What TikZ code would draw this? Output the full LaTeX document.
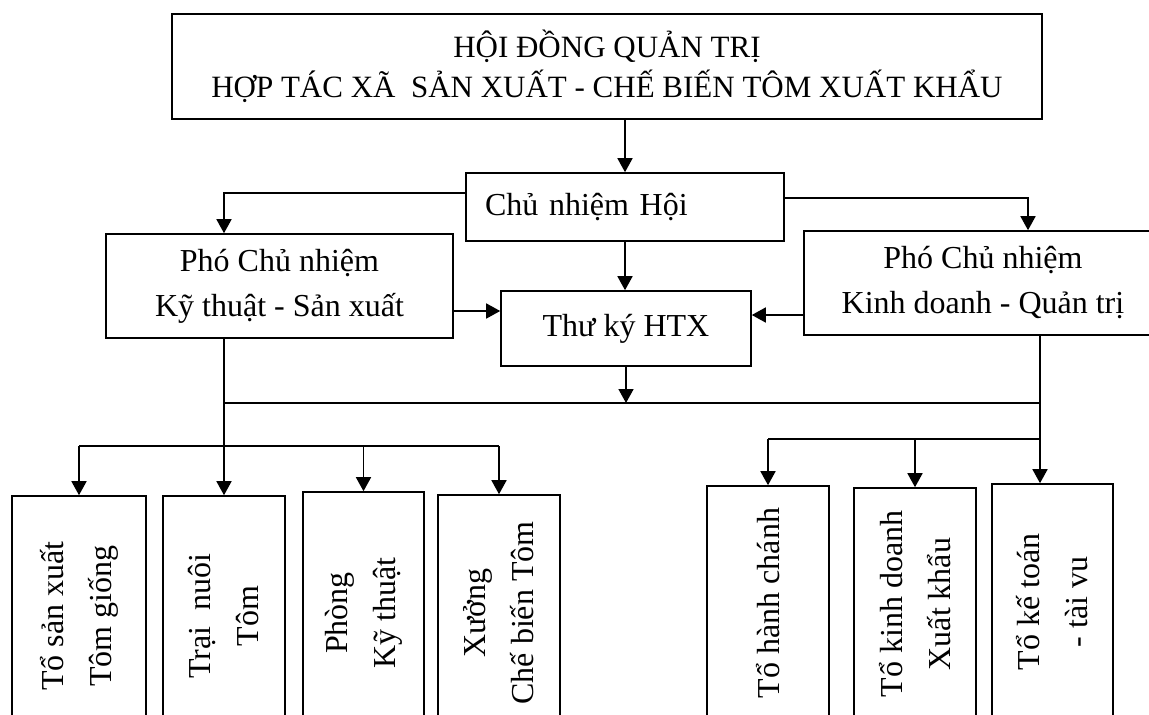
\documentclass[tikz,border=0pt]{standalone}
\usepackage{fontspec}
\setmainfont{Liberation Serif}
\usetikzlibrary{arrows.meta,positioning}

\begin{document}
\begin{tikzpicture}[x=1pt, y=-1pt,
    box/.style={draw, line width=1.6pt, align=center, inner sep=0pt},
    vbox/.style={box, rotate=90},
    ln/.style={line width=1.6pt},
    arr/.style={ln, -{Triangle[width=15pt,length=14pt]}},
    font=\fontsize{32}{48}\selectfont]
    \useasboundingbox (0,0) rectangle (1149,715);
    \clip (0,0) rectangle (1149,715);

    % Board
    \node[box, minimum width=870pt, minimum height=105pt, font=\fontsize{31}{40}\selectfont] (hdqt) at (607,66.5)
        {HỘI ĐỒNG QUẢN TRỊ\\HỢP TÁC XÃ~~SẢN XUẤT - CHẾ BIẾN TÔM XUẤT KHẨU};

    % Chairman
    \node[box, text width=280pt, align=left, inner xsep=19pt, minimum height=68pt] (cn) at (625,207) {Chủ nhiệm Hội};

    % Vice chairmen
    \node[box, minimum width=347pt, minimum height=104pt, font=\fontsize{32}{45}\selectfont] (pcn1) at (279.5,286) {Phó Chủ nhiệm\\Kỹ thuật - Sản xuất};
    \node[box, minimum width=358pt, minimum height=104pt, font=\fontsize{32}{45}\selectfont] (pcn2) at (983,283) {Phó Chủ nhiệm\\Kinh doanh - Quản trị};

    % Secretary
    \node[box, minimum width=250pt, minimum height=75pt] (tk) at (626,328.5) {Thư ký HTX};

    % Units (rotated: .east is the top side)
    \node[vbox, minimum width=240pt, minimum height=134pt] (b1) at (79,616) {Tổ sản xuất\\Tôm giống};
    \node[vbox, minimum width=240pt, minimum height=122pt] (b2) at (224,616) {Trại~~nuôi\\Tôm};
    \node[vbox, minimum width=242pt, minimum height=121pt] (b3) at (363.5,613) {Phòng\\Kỹ thuật};
    \node[vbox, minimum width=236pt, minimum height=122pt] (b4) at (499,613) {Xưởng\\Chế biến Tôm};
    \node[vbox, minimum width=234pt, minimum height=122pt] (b5) at (768,603) {Tổ hành chánh};
    \node[vbox, minimum width=232pt, minimum height=122pt] (b6) at (915,604) {Tổ kinh doanh\\Xuất khẩu};
    \node[vbox, minimum width=236pt, minimum height=121pt] (b7) at (1052.5,602) {Tổ kế toán\\- tài vu};

    % Helper points
    \coordinate (mbus) at (0,403);
    \coordinate (lbus) at (0,446);
    \coordinate (rbus) at (0,439);
    \coordinate (rtop) at (1028,0);
    \coordinate (rbot) at ([xshift=57pt]pcn2.south);
    \coordinate (lm) at ([yshift=-25pt]pcn1.east);
    \coordinate (rm) at ([yshift=-32pt]pcn2.west);

    % Arrows
    \draw[arr] (hdqt.south -| cn.north) -- (cn.north);
    \draw[arr] ([yshift=14pt]cn.west) -| (b2.east |- pcn1.north);
    \draw[arr] ([yshift=9pt]cn.east) -| (rtop |- pcn2.north);
    \draw[arr] (cn.south) -- (cn.south |- tk.north);
    \draw[arr] (lm) -- (lm -| tk.west);
    \draw[arr] (rm) -- (rm -| tk.east);
    \draw[arr] (tk.south) -- (tk.south |- mbus);

    % Buses
    \draw[ln] (b2.east |- mbus) -- (rbot |- mbus);
    \draw[arr] (b2.east |- pcn1.south) -- (b2.east);
    \draw[arr] (rbot) -- (rbot |- b7.east);
    \draw[ln] (b1.east |- lbus) -- (b4.east |- lbus);
    \foreach \u in {b1,b3,b4}
        \draw[arr] (\u.east |- lbus) -- (\u.east);
    \draw[ln] (b5.east |- rbus) -- (rbot |- rbus);
    \foreach \u in {b5,b6}
        \draw[arr] (\u.east |- rbus) -- (\u.east);
\end{tikzpicture}
\end{document}
